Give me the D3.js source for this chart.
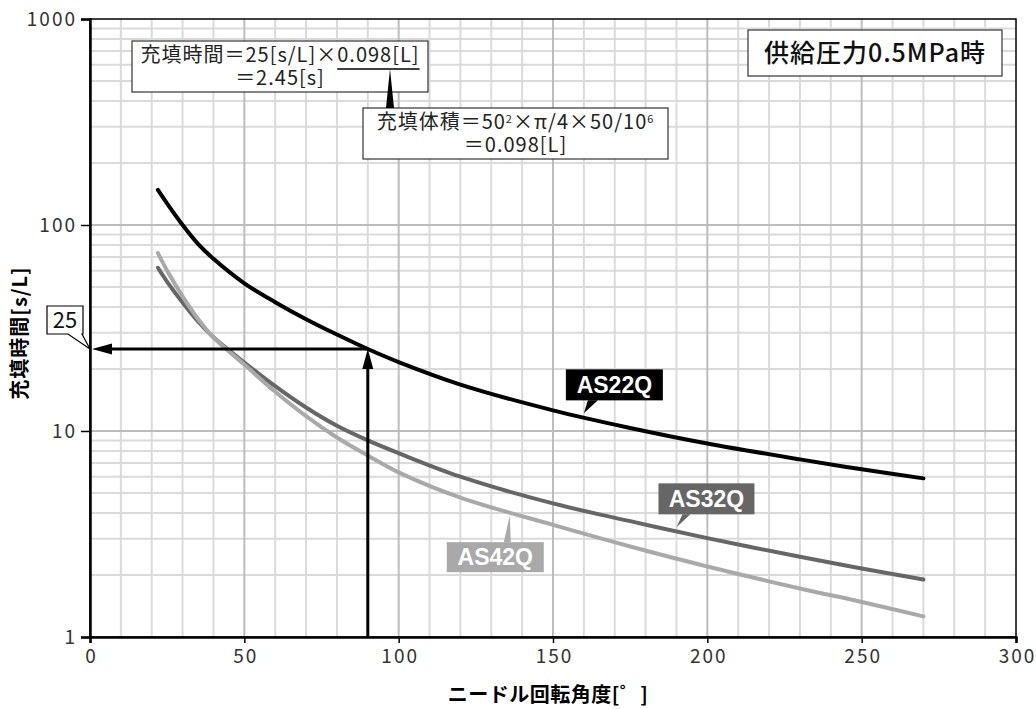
<!DOCTYPE html>
<html>
<head>
<meta charset="utf-8">
<script src="https://cdn.jsdelivr.net/npm/d3@7"></script>
<style>
  body { margin: 0; background: #fff; }
  svg { display: block; font-family: "Noto Sans CJK JP", "Noto Sans", sans-serif; }
</style>
</head>
<body>
<svg id="chart"></svg>
<script>
// data
const angles  = [22, 25, 30, 35, 40, 50, 60, 70, 80, 90, 100, 120, 150, 175, 200, 230, 250, 270];
const as22q   = [148, 127, 100, 81, 68.5, 52.1, 42.2, 34.9, 29.4, 25, 21.6, 16.8, 12.6, 10.35, 8.7, 7.28, 6.52, 5.89];
const as32q   = [62, 53, 42, 34, 28.5, 21.5, 16.5, 13, 10.6, 9.0, 7.8, 6.0, 4.45, 3.65, 3.02, 2.45, 2.15, 1.9];
const as42q   = [73, 60, 45, 35, 28.5, 21, 15.5, 11.8, 9.3, 7.6, 6.3, 4.75, 3.5, 2.75, 2.2, 1.72, 1.48, 1.26];
const seriesNames  = ["AS22Q", "AS32Q", "AS42Q"];
const seriesColors = ["#000000", "#666666", "#a9a9a9"];
const labelAt      = [160, 190, 136];   // angle where each label's pointer touches its curve
const xTicks = [0, 50, 100, 150, 200, 250, 300];
const yTicks = [1, 10, 100, 1000];
const readAngle = 90;   // worked example
const readTime  = 25;

const width = 1036, height = 709;
const margin = {top: 19, right: 20, bottom: 72, left: 90};

const svg = d3.select('svg#chart')
  .attr('width', width)
  .attr('height', height);

const x = d3.scaleLinear().domain([0, 300]).range([margin.left, width - margin.right]);
const y = d3.scaleLog().domain([1, 1000]).range([height - margin.bottom, margin.top]);

// grid
const grid = svg.append('g');
const minorX = d3.range(10, 300, 10).filter(d => d % 50 !== 0);
const minorY = [];
[1, 10, 100].forEach(dec => { for (let k = 2; k <= 9; k++) minorY.push(dec * k); });

grid.selectAll('line.mx').data(minorX).enter().append('line')
  .attr('x1', d => x(d)).attr('x2', d => x(d))
  .attr('y1', y(1)).attr('y2', y(1000))
  .attr('stroke', '#dadada').attr('stroke-width', 2);
grid.selectAll('line.my').data(minorY).enter().append('line')
  .attr('x1', x(0)).attr('x2', x(300))
  .attr('y1', d => y(d)).attr('y2', d => y(d))
  .attr('stroke', '#dadada').attr('stroke-width', 2);
grid.selectAll('line.Mx').data(xTicks.slice(1, -1)).enter().append('line')
  .attr('x1', d => x(d)).attr('x2', d => x(d))
  .attr('y1', y(1)).attr('y2', y(1000))
  .attr('stroke', '#bcbcbc').attr('stroke-width', 2);
grid.selectAll('line.My').data(yTicks.slice(1, -1)).enter().append('line')
  .attr('x1', x(0)).attr('x2', x(300))
  .attr('y1', d => y(d)).attr('y2', d => y(d))
  .attr('stroke', '#bcbcbc').attr('stroke-width', 2);

// frame
svg.append('rect')
  .attr('x', x(0)).attr('y', y(1000))
  .attr('width', x(300) - x(0)).attr('height', y(1) - y(1000))
  .attr('fill', 'none').attr('stroke', '#000').attr('stroke-width', 1.5);

// axes
const xAxis = d3.axisBottom(x).tickValues(xTicks).tickSize(6).tickPadding(5);
const yAxis = d3.axisLeft(y).tickValues(yTicks).tickFormat(d3.format('d')).tickSize(9).tickPadding(4);

const gX = svg.append('g').attr('transform', `translate(0, ${y(1)})`).call(xAxis);
const gY = svg.append('g').attr('transform', `translate(${x(0)}, 0)`).call(yAxis);
[gX, gY].forEach(g => {
  g.select('.domain').attr('stroke', '#000').attr('stroke-width', 2.5);
  g.selectAll('.tick line').attr('stroke', '#000').attr('stroke-width', 1.5);
  g.selectAll('.tick text')
    .attr('fill', '#333')
    .style('font-size', '19px')
    .style('letter-spacing', '2px')
    .style('font-family', '"Noto Sans CJK JP", sans-serif');
});
gX.selectAll('.tick text').attr('dy', '0.8em').attr('dx', '1px');
gY.selectAll('.tick text').attr('dy', '0.35em');

// axis titles
svg.append('text')
  .attr('transform', `translate(27, 333) rotate(-90)`)
  .attr('text-anchor', 'middle')
  .style('font-size', '20px').style('font-weight', 'bold')
  .style('letter-spacing', '1px')
  .text('充填時間[s/L]');
svg.append('text')
  .attr('x', 548).attr('y', 702)
  .attr('text-anchor', 'middle')
  .style('font-size', '20px').style('font-weight', 'bold')
  .style('letter-spacing', '0.5px')
  .text('ニードル回転角度[゜]');

// curves
const seriesValues = [as22q, as32q, as42q];
const line = d3.line()
  .x(d => x(d[0]))
  .y(d => y(d[1]))
  .curve(d3.curveCatmullRom.alpha(0.5));

seriesValues.forEach((vals, i) => {
  svg.append('path')
    .datum(angles.map((a, j) => [a, vals[j]]))
    .attr('d', line)
    .attr('fill', 'none')
    .attr('stroke', seriesColors[i])
    .attr('stroke-width', 4)
    .attr('stroke-linecap', 'round');
});

// value on curve at a given angle (log interpolation)
function valueAt(vals, a) {
  const j = Math.max(1, d3.bisectLeft(angles, a));
  const t = (a - angles[j - 1]) / (angles[j] - angles[j - 1]);
  return Math.exp(Math.log(vals[j - 1]) + t * (Math.log(vals[j]) - Math.log(vals[j - 1])));
}

// series labels: box, pointer, text
const labelGeom = [
  {bx: -18, by: -44, w: 97, h: 31, tail: [[4, -13], [14, -13]]},
  {bx: -18, by: -44, w: 96, h: 31, tail: [[6, -13], [14, -13]]},
  {bx: -63, by: 27,  w: 97, h: 30, tail: [[-6, 27], [1, 27]]}
];
seriesNames.forEach((name, i) => {
  const tx = x(labelAt[i]);
  const ty = y(valueAt(seriesValues[i], labelAt[i])) + (i === 2 ? 3 : -4);
  const g = labelGeom[i];
  const lg = svg.append('g');
  lg.append('path')
    .attr('d', `M${tx + g.tail[0][0]},${ty + g.tail[0][1]} L${tx},${ty} L${tx + g.tail[1][0]},${ty + g.tail[1][1]} Z`)
    .attr('fill', seriesColors[i]);
  lg.append('rect')
    .attr('x', tx + g.bx).attr('y', ty + g.by)
    .attr('width', g.w).attr('height', g.h)
    .attr('fill', seriesColors[i]);
  lg.append('text')
    .attr('x', tx + g.bx + g.w / 2).attr('y', ty + g.by + g.h / 2 + 8)
    .attr('text-anchor', 'middle')
    .attr('fill', '#fff')
    .style('font-family', '"Liberation Sans", Arial, sans-serif')
    .style('font-weight', 'bold')
    .style('font-size', '23px')
    .text(name);
});

// worked example arrows
const ax = x(readAngle), ay = y(readTime);
svg.append('line')
  .attr('x1', ax).attr('x2', ax).attr('y1', y(1)).attr('y2', ay + 16)
  .attr('stroke', '#000').attr('stroke-width', 3);
svg.append('path')
  .attr('d', `M${ax},${ay} L${ax - 5.5},${ay + 20} L${ax + 5.5},${ay + 20} Z`)
  .attr('fill', '#000');
svg.append('line')
  .attr('x1', ax).attr('x2', x(0) + 18).attr('y1', ay).attr('y2', ay)
  .attr('stroke', '#000').attr('stroke-width', 3);
svg.append('path')
  .attr('d', `M${x(0) + 2},${ay} L${x(0) + 22},${ay - 5.5} L${x(0) + 22},${ay + 5.5} Z`)
  .attr('fill', '#000');

// "25" callout
const cx0 = x(0), cy0 = ay;
svg.append('path')
  .attr('d', `M${cx0 - 43},${cy0 - 43} H${cx0 - 7} V${cy0 - 15} H${cx0 - 8} L${cx0},${cy0} L${cx0 - 22},${cy0 - 15} H${cx0 - 43} Z`)
  .attr('fill', '#fff').attr('stroke', '#000').attr('stroke-width', 1.2);
svg.append('text')
  .attr('x', cx0 - 25).attr('y', cy0 - 21)
  .attr('text-anchor', 'middle')
  .style('font-size', '22px').attr('fill', '#111')
  .text(String(readTime));

// formula callouts; one text per box, each line a list of [text, superscript?] parts
function textBox(x0, y0, w, h, lines, size) {
  svg.append('rect')
    .attr('x', x0).attr('y', y0).attr('width', w).attr('height', h)
    .attr('fill', '#fff').attr('stroke', '#333').attr('stroke-width', 1.2);
  const t = svg.append('text')
    .attr('text-anchor', 'middle')
    .attr('fill', '#222')
    .style('font-size', size + 'px')
    .style('letter-spacing', '1px');
  lines.forEach((parts, k) => {
    const row = t.append('tspan')
      .attr('x', x0 + w / 2).attr('y', y0 + 21 + k * 23);
    parts.forEach(p => {
      const ts = row.append('tspan').text(p[0]);
      if (p[1]) ts.attr('baseline-shift', '55%').style('font-size', (size * 0.55) + 'px');
    });
  });
  return t;
}

const t1 = textBox(132, 41, 296, 51, [[['充填時間＝25[s/L]×0.098[L]']], [['＝2.45[s]']]], 20);
textBox(363, 108, 305, 51,
  [[['充填体積＝50'], ['2', true], ['×π/4×50/10'], ['6', true]], [['＝0.098[L]']]], 20);

// underline "0.098[L]" and pointer from the volume box
const line1 = '充填時間＝25[s/L]×0.098[L]';
const n1 = t1.node();
const uX1 = n1.getStartPositionOfChar(line1.indexOf('0.098')).x;
const uX2 = n1.getEndPositionOfChar(line1.length - 1).x;
svg.append('line')
  .attr('x1', uX1).attr('x2', uX2).attr('y1', 69).attr('y2', 69)
  .attr('stroke', '#000').attr('stroke-width', 1.5);
svg.append('path')
  .attr('d', `M390,69 L386,108 L394,108 Z`)
  .attr('fill', '#000');

// pressure box
svg.append('rect')
  .attr('x', 748).attr('y', 30).attr('width', 254).attr('height', 46)
  .attr('fill', '#fff').attr('stroke', '#333').attr('stroke-width', 1.2);
svg.append('text')
  .attr('x', 875).attr('y', 62)
  .attr('text-anchor', 'middle')
  .style('font-size', '25px').style('font-weight', 500)
  .style('letter-spacing', '1px')
  .attr('fill', '#111')
  .text('供給圧力0.5MPa時');
</script>
</body>
</html>
